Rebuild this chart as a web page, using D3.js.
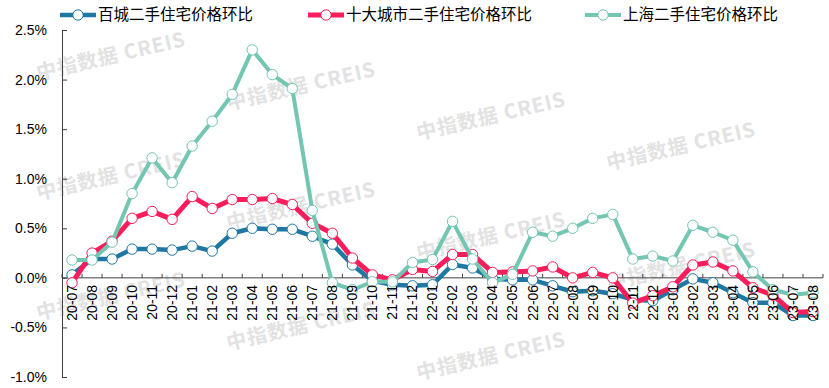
<!DOCTYPE html>
<html>
<head>
<meta charset="utf-8">
<script src="https://cdn.jsdelivr.net/npm/d3@7"></script>
<style>
  body { margin: 0; background: #fff; }
  svg { display: block; font-family: "Liberation Sans", Arial, sans-serif; }
</style>
</head>
<body>
<div id="chart"></div>
<script>
const width = 829;
const height = 388;

const months = ['20-07','20-08','20-09','20-10','20-11','20-12','21-01','21-02','21-03','21-04',
  '21-05','21-06','21-07','21-08','21-09','21-10','21-11','21-12','22-01','22-02','22-03','22-04',
  '22-05','22-06','22-07','22-08','22-09','22-10','22-11','22-12','23-01','23-02','23-03','23-04',
  '23-05','23-06','23-07','23-08'];

// 百城二手住宅价格环比 (%)
const hundredCities = [0.03,0.19,0.19,0.29,0.29,0.28,0.32,0.27,0.45,0.50,
  0.49,0.49,0.42,0.34,0.13,-0.03,-0.07,-0.08,-0.07,0.135,0.10,-0.01,
  -0.02,-0.02,-0.08,-0.14,-0.13,-0.16,-0.22,-0.23,-0.12,-0.01,-0.05,-0.15,
  -0.25,-0.25,-0.38,-0.38];

// 十大城市二手住宅价格环比 (%)
const tenCities = [-0.05,0.25,0.37,0.60,0.67,0.59,0.82,0.70,0.79,0.79,
  0.80,0.74,0.55,0.45,0.20,0.03,-0.02,0.085,0.065,0.235,0.235,0.055,
  0.06,0.07,0.11,0.00,0.055,0.00,-0.255,-0.18,-0.09,0.13,0.16,0.07,
  -0.10,-0.175,-0.35,-0.34];

// 上海二手住宅价格环比 (%)
const shanghai = [0.18,0.18,0.36,0.85,1.21,0.96,1.33,1.58,1.85,2.30,
  2.05,1.91,0.68,-0.05,-0.12,-0.04,-0.04,0.155,0.185,0.57,0.19,-0.05,
  0.035,0.46,0.42,0.50,0.60,0.64,0.19,0.22,0.17,0.53,0.46,0.38,
  0.06,-0.12,-0.17,-0.15];

const yTicks = [-1.0,-0.5,0.0,0.5,1.0,1.5,2.0,2.5];

const seriesNames = ['百城二手住宅价格环比','十大城市二手住宅价格环比','上海二手住宅价格环比'];
const seriesColors = ['#1f78a3','#fa1d5b','#72c6b2'];
const seriesWidths = [4.5, 5, 4];
const seriesData = [hundredCities, tenCities, shanghai];

const plotLeft = 62, plotRight = 823, plotTop = 30, plotBottom = 377;

const svg = d3.select('#chart')
  .append('svg')
  .attr('width', width)
  .attr('height', height);

const x = d3.scaleBand().domain(months).range([plotLeft, plotRight]).padding(0);
const y = d3.scaleLinear().domain([-1.0, 2.5]).range([plotBottom, plotTop]);
const cx = d => x(d) + x.bandwidth() / 2;

// watermarks
const wm = svg.append('g');
for (let k = 0; k < 4; k++) {
  for (let j = -1; j < 4; j++) {
    const wx = 111 + 190 * k;
    const wy = 56 + 30 * k + 120 * j;
    if (wy < 30 || wy > 365) continue;
    wm.append('text')
      .attr('transform', `translate(${wx},${wy}) rotate(-13)`)
      .attr('text-anchor', 'middle')
      .attr('dy', '0.35em')
      .style('font-family', '"Noto Sans CJK SC", "Noto Sans", sans-serif')
      .style('font-weight', 'bold')
      .style('font-size', '20px')
      .style('letter-spacing', '1px')
      .attr('fill', '#e2e2e2')
      .text('中指数据 CREIS');
  }
}

// y axis
const yAxis = svg.append('g')
  .attr('transform', `translate(${plotLeft},0)`)
  .call(d3.axisLeft(y).tickValues(yTicks)
    .tickFormat(d => d.toFixed(1) + '%')
    .tickSizeInner(-5).tickSizeOuter(0).tickPadding(15));
yAxis.select('.domain').attr('stroke', '#404040');
yAxis.selectAll('.tick line').attr('stroke', '#404040');
yAxis.selectAll('text').style('font-size', '14px').attr('fill', '#000');

// x axis on zero line
const zeroY = y(0);
const idx = d3.scaleLinear().domain([0, months.length]).range([plotLeft, plotRight]);
const xAxis = svg.append('g').attr('transform', `translate(0,${zeroY})`);
xAxis.append('line')
  .attr('x1', plotLeft).attr('x2', plotRight)
  .attr('stroke', '#404040');
xAxis.selectAll('.xt')
  .data(d3.range(months.length + 1))
  .enter().append('line')
  .attr('class', 'xt')
  .attr('x1', d => idx(d)).attr('x2', d => idx(d))
  .attr('y1', 0).attr('y2', -4)
  .attr('stroke', '#404040');

// series
seriesData.forEach((vals, s) => {
  const pts = months.map((m, i) => ({m: m, v: vals[i]}));
  const line = d3.line().x(d => cx(d.m)).y(d => y(d.v));
  svg.append('path')
    .datum(pts)
    .attr('d', line)
    .attr('fill', 'none')
    .attr('stroke', seriesColors[s])
    .attr('stroke-width', seriesWidths[s])
    .attr('stroke-linejoin', 'round');
  svg.append('g').selectAll('circle')
    .data(pts)
    .enter().append('circle')
    .attr('cx', d => cx(d.m))
    .attr('cy', d => y(d.v))
    .attr('r', 5.2)
    .attr('fill', '#fff')
    .attr('stroke', seriesColors[s])
    .attr('stroke-width', 1);
});

// x labels (drawn above lines)
svg.append('g').selectAll('text')
  .data(months)
  .enter().append('text')
  .attr('transform', d => `translate(${cx(d)},${zeroY}) rotate(-90)`)
  .attr('x', -7)
  .attr('dy', '0.35em')
  .attr('text-anchor', 'end')
  .style('font-size', '14px')
  .attr('fill', '#000')
  .text(d => d);

// legend
const legendX = [60, 308, 585];
const legend = svg.append('g');
seriesNames.forEach((name, s) => {
  const g = legend.append('g').attr('transform', `translate(${legendX[s]},15)`);
  g.append('line')
    .attr('x1', 0).attr('x2', 36)
    .attr('stroke', seriesColors[s])
    .attr('stroke-width', seriesWidths[s]);
  g.append('circle')
    .attr('cx', 18).attr('r', 5.2)
    .attr('fill', '#fff')
    .attr('stroke', seriesColors[s]);
  g.append('text')
    .attr('x', 38)
    .attr('dy', '0.35em')
    .style('font-family', '"Noto Sans CJK SC", sans-serif')
    .style('font-size', '15.5px')
    .attr('fill', '#000')
    .text(name);
});
</script>
</body>
</html>
